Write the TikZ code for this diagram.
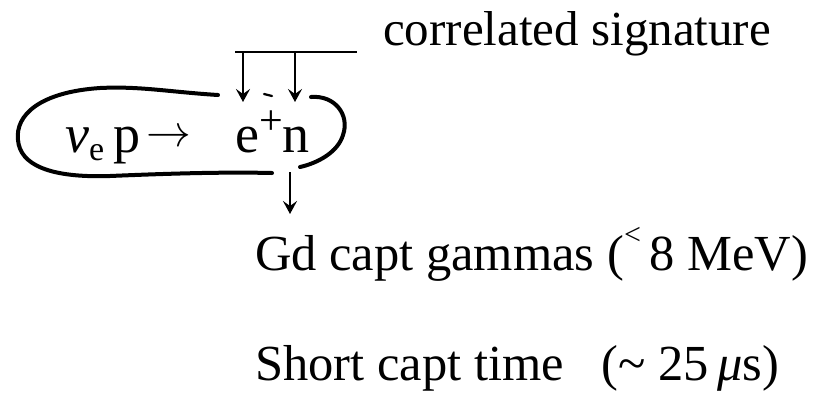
\documentclass[tikz,border=0pt]{standalone}
\usepackage{fontspec}
\usepackage{graphicx}
\setmainfont{Liberation Serif}
\usetikzlibrary{arrows.meta}
\begin{document}
\begin{tikzpicture}[x=1pt,y=-1pt,
  txt/.style={inner sep=0pt,anchor=base west,font=\fontsize{50.5}{56}\selectfont},
  sigtxt/.style={inner sep=0pt,anchor=base west,font=\fontsize{49}{56}\selectfont},
  big/.style={inner sep=0pt,anchor=base west,font=\fontsize{54}{60}\selectfont},
  loopline/.style={line width=4pt,line cap=round},
  arr/.style={line width=2.8pt,-{Stealth[length=13pt,width=14pt,inset=5pt]}}]
\useasboundingbox (0,0) rectangle (818,392);
\node[sigtxt] (sig) at (383,45) {correlated signature};
\node[big] (react) at (65,152) {\textit{ν}\raisebox{-0.15em}{\fontsize{34}{36}\selectfont e}\,p\hspace{6pt}\raisebox{0.1em}{\scalebox{1.8}{$\rightarrow$}}};
\node[big] (prod) at (235,152) {e\raisebox{0.33em}{\fontsize{42}{44}\selectfont +}n};
\node[txt] (gd) at (255,270) {Gd capt gammas (\raisebox{0.5em}{\fontsize{30}{30}\selectfont <}\,8 MeV)};
\node[txt] (st) at (255,380) {Short capt time\hspace{0.75em}(\textasciitilde\ 25\,\textit{μ}s)};
% top bar and arrows
\coordinate (b1) at (235,52);
\coordinate (b2) at (357,52);
\coordinate (a1s) at (243,52);
\coordinate (a1e) at (243,102);
\coordinate (a2s) at (295,52);
\coordinate (a2e) at (295,102);
\draw[line width=2.4pt] (b1) -- (b2);
\draw[arr] (a1s) -- (a1e);
\draw[arr] (a2s) -- (a2e);
% small stroke
\coordinate (m0) at (264,94);
\coordinate (m1) at (272,96);
\draw[line width=2.2pt,line cap=round] (m0) -- (m1);
% loop
\coordinate (l0) at (218,95);
\coordinate (l1) at (272,173);
\draw[loopline] (l0) .. controls (170,92) and (140,86) .. (100,88)
  .. controls (40,92) and (15,115) .. (18,140)
  .. controls (20,165) and (50,178) .. (110,176)
  .. controls (180,173) and (230,172) .. (l1);
\coordinate (r0) at (311,97);
\coordinate (r1) at (300,167);
\draw[loopline] (r0) .. controls (335,95) and (350,115) .. (343,135)
  .. controls (338,152) and (318,163) .. (r1);
% bottom arrow
\coordinate (d0) at (290,172);
\coordinate (d1) at (290,214);
\draw[arr] (d0) -- (d1);
\end{tikzpicture}
\end{document}
